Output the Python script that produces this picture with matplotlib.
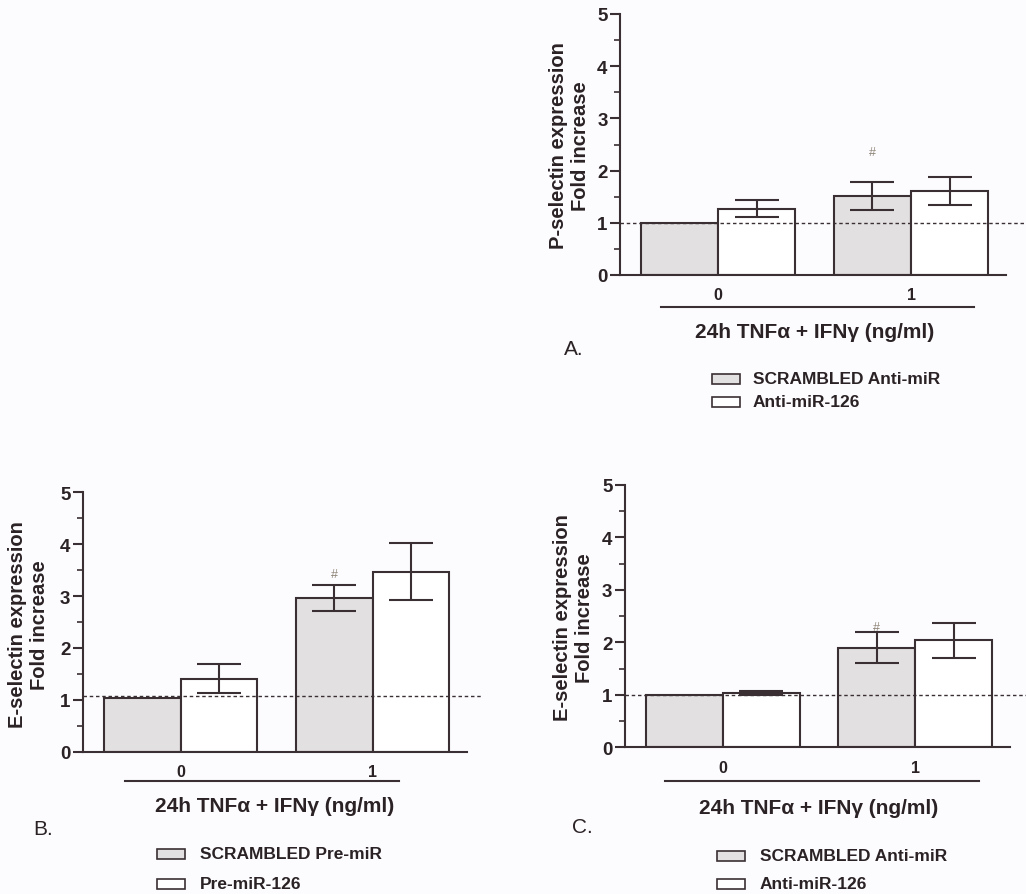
import matplotlib
matplotlib.use("Agg")
import matplotlib.pyplot as plt
from matplotlib.patches import Rectangle

plt.rcParams['font.family'] = ['Liberation Sans', 'DejaVu Sans']

W, H = 1026, 895

# ---------------- data ----------------
groups = ["0", "1"]
xlabel_text = "24h TNF\u03b1 + IFN\u03b3 (ng/ml)"

a_ctrl = [1.00, 1.52]
a_ctrl_err = [0.0, 0.27]
a_treat = [1.27, 1.61]
a_treat_err = [0.16, 0.27]
a_ylabel = "P-selectin expression\nFold increase"
a_legend = ["SCRAMBLED Anti-miR", "Anti-miR-126"]
a_ref = 1.0
a_hash = 2.35

b_ctrl = [1.03, 2.97]
b_ctrl_err = [0.0, 0.25]
b_treat = [1.41, 3.47]
b_treat_err = [0.28, 0.55]
b_ylabel = "E-selectin expression\nFold increase"
b_legend = ["SCRAMBLED Pre-miR", "Pre-miR-126"]
b_ref = 1.07
b_hash = 3.43

c_ctrl = [1.00, 1.90]
c_ctrl_err = [0.0, 0.29]
c_treat = [1.04, 2.04]
c_treat_err = [0.04, 0.33]
c_ylabel = "E-selectin expression\nFold increase"
c_legend = ["SCRAMBLED Anti-miR", "Anti-miR-126"]
c_ref = 1.0
c_hash = 2.30

yticks = [0, 1, 2, 3, 4, 5]

# ---------------- style ----------------
TXT = "#2a2225"
EDGE = "#3a3034"
GRAY = "#e3e0e1"
BG = "#fcfbfd"

fig = plt.figure(figsize=(W / 100, H / 100), dpi=100, facecolor=BG)


def fx(x):
    return x / W


def fy(y):
    return 1 - y / H


def panel(ctrl, ctrl_err, treat, treat_err, ylabel, legend, ref, hashy, letter, P):
    left, right, y0, y5 = P["ax"]
    ax = fig.add_axes([fx(left), fy(y0), (right - left) / W, (y0 - y5) / H])
    ax.set_facecolor("none")
    ax.set_xlim(-1.27, 3.73)
    ax.set_ylim(0, 5)
    centers = [i * 2.5 for i in range(len(groups))]
    xc = [c - 0.5 for c in centers]
    xt = [c + 0.5 for c in centers]
    ax.bar(xc, ctrl, width=1.0, color=GRAY, edgecolor=EDGE, linewidth=1.5, zorder=2)
    ax.bar(xt, treat, width=1.0, color="white", edgecolor=EDGE, linewidth=1.5, zorder=2)
    for xs, vals, errs in ((xc, ctrl, ctrl_err), (xt, treat, treat_err)):
        for x, v, e in zip(xs, vals, errs):
            if e > 0:
                ax.errorbar([x], [v], yerr=[e], fmt="none", ecolor=EDGE,
                            elinewidth=1.5, capsize=15.5, capthick=1.5, zorder=3)
    xend = -1.27 + (P["dash_end"] - left) / 77.0
    ax.plot([-1.27, xend], [ref, ref], color=EDGE, lw=1.0,
            linestyle=(0, (2.5, 2)), clip_on=False, zorder=4)
    ax.text(xc[1], hashy, "#", ha="center", va="center", fontsize=9,
            color="#8f8578", zorder=5)
    for s in ("top", "right"):
        ax.spines[s].set_visible(False)
    for s in ("left", "bottom"):
        ax.spines[s].set_color(EDGE)
        ax.spines[s].set_linewidth(1.5)
    ax.set_yticks(yticks)
    ax.set_yticklabels([str(t) for t in yticks], fontsize=13.5,
                       fontweight="bold", color=TXT)
    ax.set_yticks([t + 0.5 for t in yticks[:-1]], minor=True)
    ax.tick_params(axis="y", which="major", length=7, width=1.5, color=EDGE, pad=2)
    ax.tick_params(axis="y", which="minor", length=4, width=1.2, color=EDGE)
    ax.set_xticks(centers)
    ax.set_xticklabels(groups, fontsize=11.5, fontweight="bold", color=TXT)
    ax.tick_params(axis="x", length=0, pad=9)

    # underline under categories
    ux0, ux1, uy = P["uline"]
    fig.add_artist(plt.Line2D([fx(ux0), fx(ux1)], [fy(uy), fy(uy)],
                              color=EDGE, lw=1.5, transform=fig.transFigure))
    # x label
    fig.text(fx(P["xlab"][0]), fy(P["xlab"][1]), xlabel_text, ha="center",
             va="center", fontsize=15, fontweight="bold", color=TXT)
    # y label
    fig.text(fx(P["ylab"][0]), fy(P["ylab"][1]), ylabel, ha="center",
             va="center", rotation=90, fontsize=14.5, fontweight="bold",
             color=TXT, linespacing=1.2, multialignment="center")
    # panel letter
    fig.text(fx(P["letter"][0]), fy(P["letter"][1]), letter, ha="left",
             va="center", fontsize=15, color=TXT)
    # legend
    lx, ly1, ly2, tx = P["legend"]
    for (yy, lab, fc) in ((ly1, legend[0], GRAY), (ly2, legend[1], "white")):
        fig.add_artist(Rectangle((fx(lx), fy(yy + 5)), 28 / W, 10 / H,
                                 facecolor=fc, edgecolor=EDGE, lw=1.2,
                                 transform=fig.transFigure))
        fig.text(fx(tx), fy(yy), lab, ha="left", va="center", fontsize=12.5,
                 fontweight="bold", color=TXT)
    return ax


PA = dict(ax=(620, 1006, 276, 15), dash_end=1023, uline=(661, 974, 308),
          xlab=(815, 333), ylab=(569, 146), letter=(564, 350),
          legend=(712, 380, 403, 753))
PB = dict(ax=(83, 467, 752.7, 493.3), dash_end=483, uline=(125, 399, 782),
          xlab=(275, 807), ylab=(29, 625), letter=(33, 830),
          legend=(157, 855, 885, 200))
PC = dict(ax=(625, 1010, 748.3, 486), dash_end=1026, uline=(665, 979, 782),
          xlab=(819, 808), ylab=(573, 618), letter=(572, 828),
          legend=(717, 857, 885, 760))

panel(a_ctrl, a_ctrl_err, a_treat, a_treat_err, a_ylabel, a_legend, a_ref, a_hash, "A.", PA)
panel(b_ctrl, b_ctrl_err, b_treat, b_treat_err, b_ylabel, b_legend, b_ref, b_hash, "B.", PB)
panel(c_ctrl, c_ctrl_err, c_treat, c_treat_err, c_ylabel, c_legend, c_ref, c_hash, "C.", PC)

fig.savefig("out.png", dpi=100, facecolor=BG)
